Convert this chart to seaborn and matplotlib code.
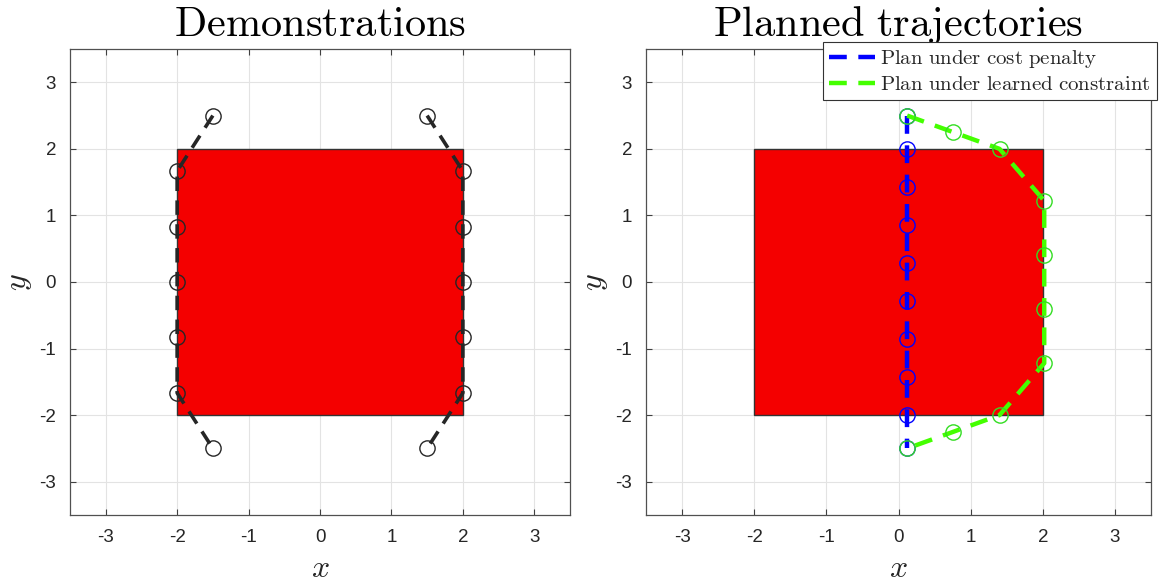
import matplotlib
matplotlib.use("Agg")
import matplotlib.pyplot as plt
import matplotlib.patches as mpatches
import seaborn as sns
import pandas as pd

# ---- data ----
demo_y = [2.5, 1.667, 0.833, 0.0, -0.833, -1.667, -2.5]
demo_left_x = [-1.5, -2.0, -2.0, -2.0, -2.0, -2.0, -1.5]
demo_right_x = [1.5, 2.0, 2.0, 2.0, 2.0, 2.0, 1.5]

penalty_x = [0.12] * 10
penalty_y = [2.5, 2.0, 1.43, 0.857, 0.286, -0.286, -0.857, -1.43, -2.0, -2.5]

constraint_x = [0.12, 0.76, 1.40, 2.02, 2.02, 2.02, 2.02, 1.40, 0.76, 0.12]
constraint_y = [2.5, 2.25, 2.0, 1.22, 0.41, -0.41, -1.22, -2.0, -2.25, -2.5]

obstacle = (-2.0, -2.0, 4.0, 4.0)  # x, y, width, height
ticks = [-3, -2, -1, 0, 1, 2, 3]
titles = ["Demonstrations", "Planned trajectories"]
legend_labels = ["Plan under cost penalty", "Plan under learned constraint"]

# ---- style ----
sns.set_theme(style="whitegrid")
plt.rcParams["font.family"] = ["Liberation Sans", "DejaVu Sans"]
plt.rcParams["mathtext.fontset"] = "cm"
plt.rcParams["axes.unicode_minus"] = False

fig = plt.figure(figsize=(11.7, 5.88), dpi=100)
ax1 = fig.add_axes([70 / 1170, 1 - 515 / 588, 500 / 1170, 466 / 588])
ax2 = fig.add_axes([646 / 1170, 1 - 515 / 588, 505 / 1170, 466 / 588])

gray = "#262626"

def style_axes(ax, title):
    ax.add_patch(mpatches.Rectangle(obstacle[:2], obstacle[2], obstacle[3],
                                    facecolor="#f40000", edgecolor="#333333",
                                    linewidth=1.0, zorder=1.5))
    ax.set_xlim(-3.5, 3.5)
    ax.set_ylim(-3.5, 3.5)
    ax.set_xticks(ticks)
    ax.set_yticks(ticks)
    ax.set_xticklabels([str(t) for t in ticks])
    ax.set_yticklabels([str(t) for t in ticks])
    ax.tick_params(axis="both", which="both", direction="in", length=4,
                   width=0.8, color="#404040", labelsize=13.5, labelcolor=gray,
                   top=True, right=True, bottom=True, left=True, pad=10)
    ax.grid(True, color="#e3e3e3", linewidth=0.8)
    ax.set_axisbelow(True)
    for s in ax.spines.values():
        s.set_color("#505050")
        s.set_linewidth(0.9)
        s.set_visible(True)
    ax.set_facecolor("white")
    ax.set_title(r"$\mathrm{" + title.replace(" ", r"\ ") + "}$",
                 fontsize=30.5, color="black", pad=9)
    ax.set_xlabel(r"$x$", fontsize=23, color=gray, labelpad=6)
    ax.set_ylabel(r"$y$", fontsize=23, color=gray, labelpad=4)

# ---- left panel ----
for xs in (demo_left_x, demo_right_x):
    df = pd.DataFrame({"x": xs, "y": demo_y, "i": range(len(xs))})
    sns.lineplot(data=df, x="x", y="y", sort=False, estimator=None, ax=ax1,
                 color=gray, linewidth=2.6, dashes=False,
                 marker="o", markersize=11, markerfacecolor="none",
                 markeredgecolor=gray, markeredgewidth=1.0, zorder=3)
for l in ax1.get_lines():
    l.set_linestyle((0, (4.0, 2.6)))
style_axes(ax1, titles[0])

# ---- right panel ----
dfp = pd.DataFrame({"x": penalty_x, "y": penalty_y})
dfc = pd.DataFrame({"x": constraint_x, "y": constraint_y})
sns.lineplot(data=dfp, x="x", y="y", sort=False, estimator=None, ax=ax2,
             color="#0000ff", linewidth=3.2, label=legend_labels[0],
             marker="o", markersize=11, markerfacecolor="none",
             markeredgecolor="#0000ff", markeredgewidth=1.0, zorder=3)
sns.lineplot(data=dfc, x="x", y="y", sort=False, estimator=None, ax=ax2,
             color="#44ff00", linewidth=3.2, label=legend_labels[1],
             marker="o", markersize=11, markerfacecolor="none",
             markeredgecolor="#33dd22", markeredgewidth=1.0, zorder=4)
for l in ax2.get_lines():
    l.set_linestyle((0, (4.0, 2.6)))
style_axes(ax2, titles[1])

handles = [plt.Line2D([], [], color="#0000ff", lw=3.2, ls=(0, (4.0, 2.6))),
           plt.Line2D([], [], color="#44ff00", lw=3.2, ls=(0, (4.0, 2.6)))]
leg = ax2.legend(handles, [r"$\mathrm{" + s.replace(" ", r"\ ") + "}$" for s in legend_labels],
                 loc="upper right", bbox_to_anchor=(1.012, 1.016),
                 borderaxespad=0, fontsize=15, frameon=True, fancybox=False,
                 handlelength=2.2, handletextpad=0.25, borderpad=0.3,
                 labelspacing=0.25)
leg.get_frame().set_edgecolor("#333333")
leg.get_frame().set_linewidth(0.8)
leg.get_frame().set_alpha(1.0)

fig.savefig("out.png", dpi=100, facecolor="white")
